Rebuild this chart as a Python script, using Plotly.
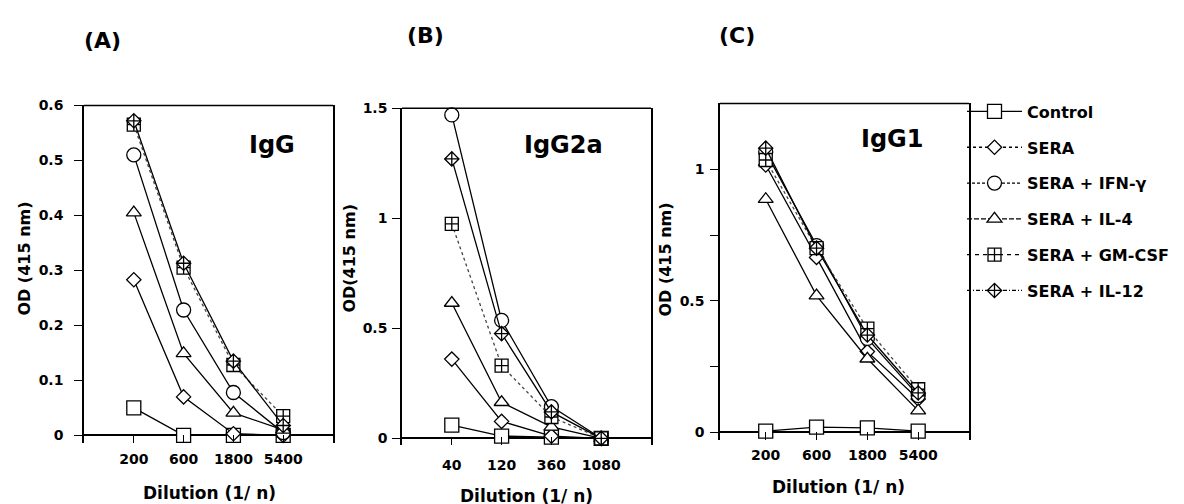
import plotly.graph_objects as go
import math

# ---------------- data ----------------
series = ["Control", "SERA", "SERA + IFN-γ", "SERA + IL-4", "SERA + GM-CSF", "SERA + IL-12"]

dil_A = [200, 600, 1800, 5400]
dil_B = [40, 120, 360, 1080]
dil_C = [200, 600, 1800, 5400]

igg_control = [0.05, 0.0, 0.0, 0.0]
igg_sera = [0.283, 0.07, 0.003, 0.0]
igg_ifn = [0.51, 0.228, 0.078, 0.005]
igg_il4 = [0.405, 0.149, 0.041, 0.01]
igg_gmcsf = [0.565, 0.305, 0.128, 0.035]
igg_il12 = [0.572, 0.313, 0.135, 0.018]

igg2a_control = [0.06, 0.01, 0.005, 0.0]
igg2a_sera = [0.36, 0.077, 0.01, 0.0]
igg2a_ifn = [1.47, 0.536, 0.144, 0.0]
igg2a_il4 = [0.615, 0.164, 0.052, 0.0]
igg2a_gmcsf = [0.975, 0.33, 0.097, 0.0]
igg2a_il12 = [1.27, 0.476, 0.12, 0.0]

igg1_control = [0.005, 0.02, 0.017, 0.005]
igg1_sera = [1.016, 0.665, 0.307, 0.127]
igg1_ifn = [1.065, 0.71, 0.357, 0.14]
igg1_il4 = [0.886, 0.52, 0.28, 0.083]
igg1_gmcsf = [1.035, 0.70, 0.394, 0.164]
igg1_il12 = [1.08, 0.70, 0.37, 0.15]

ticks_A = ["0", "0.1", "0.2", "0.3", "0.4", "0.5", "0.6"]
ticks_B = ["0", "0.5", "1", "1.5"]
ticks_C = ["0", "", "0.5", "", "1"]

# ---------------- style ----------------
W, H = 1184, 504
FONT = "DejaVu Sans"
symbols = ["square", "diamond", "circle", "triangle-up", "square-cross", "diamond-cross"]
sizes = [14, 11, 14, 13, 13, 11]
legend_dash = ["solid", "dot", "3px,2px", "5px,2px", "4px,4px", "4px,2px,1px,2px"]
plot_dash = ["solid", "solid", "solid", "solid", "dot", "solid"]


def px(x):
    return x / W


def py(y):
    return 1 - y / H


fig = go.Figure()

panels = [
    ("x", "y", dil_A, [igg_control, igg_sera, igg_ifn, igg_il4, igg_gmcsf, igg_il12]),
    ("x2", "y2", dil_B, [igg2a_control, igg2a_sera, igg2a_ifn, igg2a_il4, igg2a_gmcsf, igg2a_il12]),
    ("x3", "y3", dil_C, [igg1_control, igg1_sera, igg1_ifn, igg1_il4, igg1_gmcsf, igg1_il12]),
]

for xa, ya, dil, vals in panels:
    for i, v in enumerate(vals):
        fig.add_trace(go.Scatter(
            x=dil, y=v, xaxis=xa, yaxis=ya, mode="lines+markers",
            name=series[i], showlegend=False, cliponaxis=False,
            line=dict(color="black" if plot_dash[i] == "solid" else "#444", width=1.3, dash=plot_dash[i]),
            marker=dict(symbol=symbols[i], size=sizes[i], color="white",
                        line=dict(color="black", width=1.3)),
        ))

# legend entries
for i, name in enumerate(series):
    fig.add_trace(go.Scatter(
        x=[None], y=[None], xaxis="x", yaxis="y", mode="lines+markers",
        name=name, legendgroup=name, showlegend=True,
        line=dict(color="black", width=1.3, dash=legend_dash[i]),
        marker=dict(symbol=symbols[i], size=sizes[i], color="white",
                    line=dict(color="black", width=1.3)),
    ))

tickfont = dict(family=FONT, size=14, color="black", weight="bold")
l3 = math.log10(3)


def xaxis(dom, first, lo):
    return dict(
        domain=dom, type="log",
        range=[math.log10(first) + lo * l3, math.log10(first) + 4 * l3],
        showline=False, showgrid=False, zeroline=False,
        ticks="inside", ticklen=8, tickwidth=1.3, tickcolor="black",
        tickfont=tickfont, ticklabelstandoff=10,
    )


def yaxis(dom, rng, tv, tt, anchor):
    return dict(
        domain=dom, range=rng, tickvals=tv, ticktext=tt, anchor=anchor,
        showline=True, mirror=True, linecolor="black", linewidth=1.5,
        showgrid=False, zeroline=True, zerolinecolor="black", zerolinewidth=1.5,
        ticks="outside", ticklen=8, tickwidth=1.3, tickcolor="black",
        tickfont=tickfont,
    )


xa = xaxis([px(76), px(325)], 200, -1)
xa.update(tickvals=dil_A, ticktext=[str(d) for d in dil_A], anchor="y", ticklabelstandoff=6)
xb = xaxis([px(394), px(643)], 40, -1)
xb.update(tickvals=dil_B, ticktext=[str(d) for d in dil_B], anchor="y2", ticklabelstandoff=10)
xc = xaxis([px(712), px(961)], 200, -0.9)
xc.update(tickvals=dil_C, ticktext=[str(d) for d in dil_C], anchor="y3", ticklabelstandoff=5)

ya = yaxis([py(435), py(91)], [-8 / 560, 0.6], [0, 0.1, 0.2, 0.3, 0.4, 0.5, 0.6], ticks_A, "x")
ya.update(ticklabelstandoff=8)
yb = yaxis([py(437), py(94)], [-7 / 224, 1.5], [0, 0.5, 1, 1.5], ticks_B, "x2")
yb.update(ticklabelstandoff=2)
yc = yaxis([py(432), py(89)], [-8 / 268, 1.25], [0, 0.25, 0.5, 0.75, 1], ticks_C, "x3")
yc.update(ticklabelstandoff=3)

fig.update_layout(
    width=W, height=H, autosize=False,
    margin=dict(l=0, r=0, t=0, b=0),
    paper_bgcolor="white", plot_bgcolor="white",
    xaxis=xa, xaxis2=xb, xaxis3=xc,
    yaxis=ya, yaxis2=yb, yaxis3=yc,
    legend=dict(
        x=px(954), y=py(80), xanchor="left", yanchor="top",
        font=dict(family=FONT, size=16, color="black", weight="bold"),
        itemwidth=55, tracegroupgap=12, traceorder="grouped",
        bgcolor="rgba(0,0,0,0)",
    ),
)

# top frame lines
for xr, yr in [("x domain", "y domain"), ("x2 domain", "y2 domain"), ("x3 domain", "y3 domain")]:
    fig.add_shape(type="line", xref=xr, yref=yr, x0=0, x1=1, y0=1, y1=1,
                  line=dict(color="black", width=1.5))


def ann(text, x, y, size, angle=0):
    fig.add_annotation(text=text, x=px(x), y=py(y), xref="paper", yref="paper",
                       xanchor="center", yanchor="middle", showarrow=False,
                       textangle=angle,
                       font=dict(family=FONT, size=size, color="black", weight="bold"))


ann("(A)", 94, 25, 22)
ann("(B)", 417, 20, 22)
ann("(C)", 729, 20, 22)
ann("IgG", 264, 131, 24)
ann("IgG2a", 555, 131, 24)
ann("IgG1", 884, 125, 24)
ann("OD (415 nm)", 17, 247, 16, -90)
ann("OD(415 nm)", 342, 247, 16, -90)
ann("OD (415 nm)", 658, 248, 16, -90)
ann("Dilution (1/ n)", 201, 486, 17)
ann("Dilution (1/ n)", 518, 489, 17)
ann("Dilution (1/ n)", 830, 480, 17)

fig.write_html("out.html")
